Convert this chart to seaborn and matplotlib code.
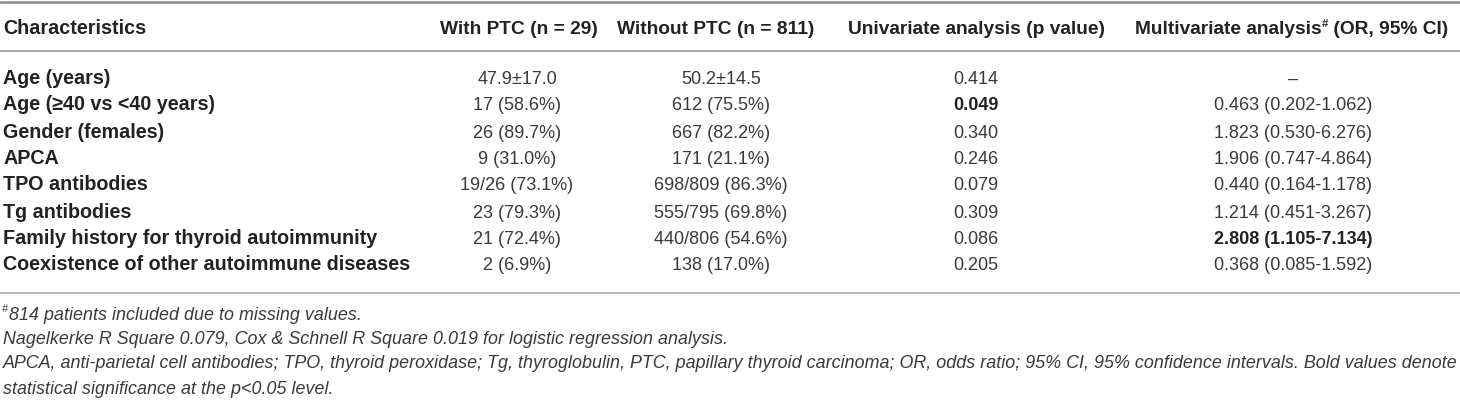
import matplotlib
matplotlib.use('Agg')
import matplotlib.pyplot as plt
import seaborn as sns

# Table content
headers = ['Characteristics', 'With PTC (n = 29)', 'Without PTC (n = 811)',
           'Univariate analysis (p value)']
multi_header = ['Multivariate analysis', '#', ' (OR, 95% CI)']

characteristics = ['Age (years)', 'Age (\u226540 vs <40 years)', 'Gender (females)', 'APCA',
                   'TPO antibodies', 'Tg antibodies', 'Family history for thyroid autoimmunity',
                   'Coexistence of other autoimmune diseases']
with_ptc = ['47.9\u00b117.0', '17 (58.6%)', '26 (89.7%)', '9 (31.0%)', '19/26 (73.1%)',
            '23 (79.3%)', '21 (72.4%)', '2 (6.9%)']
without_ptc = ['50.2\u00b114.5', '612 (75.5%)', '667 (82.2%)', '171 (21.1%)', '698/809 (86.3%)',
               '555/795 (69.8%)', '440/806 (54.6%)', '138 (17.0%)']
univariate_p = ['0.414', '0.049', '0.340', '0.246', '0.079', '0.309', '0.086', '0.205']
univariate_bold = [False, True, False, False, False, False, False, False]
multivariate_or = ['\u2013', '0.463 (0.202-1.062)', '1.823 (0.530-6.276)', '1.906 (0.747-4.864)',
                   '0.440 (0.164-1.178)', '1.214 (0.451-3.267)', '2.808 (1.105-7.134)',
                   '0.368 (0.085-1.592)']
multivariate_bold = [False, False, False, False, False, False, True, False]

footnotes = [
    '814 patients included due to missing values.',
    'Nagelkerke R Square 0.079, Cox & Schnell R Square 0.019 for logistic regression analysis.',
    'APCA, anti-parietal cell antibodies; TPO, thyroid peroxidase; Tg, thyroglobulin, PTC, papillary '
    'thyroid carcinoma; OR, odds ratio; 95% CI, 95% confidence intervals. Bold values denote',
    'statistical significance at the p<0.05 level.',
]

sns.set_style('white')
plt.rcParams['font.family'] = ['Liberation Sans', 'DejaVu Sans']

W, H = 1460, 401
fig = plt.figure(figsize=(W / 100, H / 100), dpi=100)
ax = fig.add_axes([0, 0, 1, 1])
ax.set_xlim(0, W)
ax.set_ylim(H, 0)
ax.axis('off')

txt = '#222222'
data_col = '#3a3a3a'
head_fs = 13.8
label_fs = 14.2
data_fs = 13.0
note_fs = 12.9

# rules
ax.axhline(1.5, color='#8c8c8c', lw=1.8)
ax.axhline(51, color='#a8a8a8', lw=1.5)
ax.axhline(293, color='#a8a8a8', lw=1.2)

# header row
head_y = 34
col_head_x = [3, 519, 716, 977]
for i, h in enumerate(headers):
    ax.text(col_head_x[i], head_y, h, ha='left' if i == 0 else 'center', va='baseline',
            fontsize=label_fs if i == 0 else head_fs, fontweight='bold', color=txt)

# multivariate header with superscript, centred on its column
fig.canvas.draw()
r = fig.canvas.get_renderer()
parts = []
x = 0
for p in multi_header:
    fs = head_fs * 0.6 if p == '#' else head_fs
    yy = head_y - 7 if p == '#' else head_y
    t = ax.text(x, yy, p, ha='left', va='baseline', fontsize=fs, fontweight='bold', color=txt)
    bb = t.get_window_extent(r)
    parts.append((t, bb.width))
    x += bb.width
start = 1292 - x / 2
for t, w in parts:
    t.set_x(start)
    start += w

# body rows
row_y = [77, 104, 131, 157, 184, 211, 237, 264]
for i, y in enumerate(row_y):
    yb = y + 6.5
    ax.text(3, yb, characteristics[i], ha='left', va='baseline', fontsize=label_fs,
            fontweight='bold', color=txt)
    ax.text(517, yb, with_ptc[i], ha='center', va='baseline', fontsize=data_fs, color=data_col)
    ax.text(721, yb, without_ptc[i], ha='center', va='baseline', fontsize=data_fs, color=data_col)
    ax.text(976, yb, univariate_p[i], ha='center', va='baseline', fontsize=data_fs,
            fontweight='bold' if univariate_bold[i] else 'normal',
            color=txt if univariate_bold[i] else data_col)
    ax.text(1293, yb, multivariate_or[i], ha='center', va='baseline', fontsize=data_fs,
            fontweight='bold' if multivariate_bold[i] else 'normal',
            color=txt if multivariate_bold[i] else data_col)

# footnotes
note_y = [313, 338, 362, 387]
ax.text(2, note_y[0] + 6.5 - 7, '#', ha='left', va='baseline', fontsize=note_fs * 0.6,
        style='italic', color=data_col)
for i, n in enumerate(footnotes):
    ax.text(9 if i == 0 else 3, note_y[i] + 6.5, n, ha='left', va='baseline',
            fontsize=note_fs, style='italic', color=data_col)

fig.savefig('out.png', dpi=100)
plt.close(fig)
